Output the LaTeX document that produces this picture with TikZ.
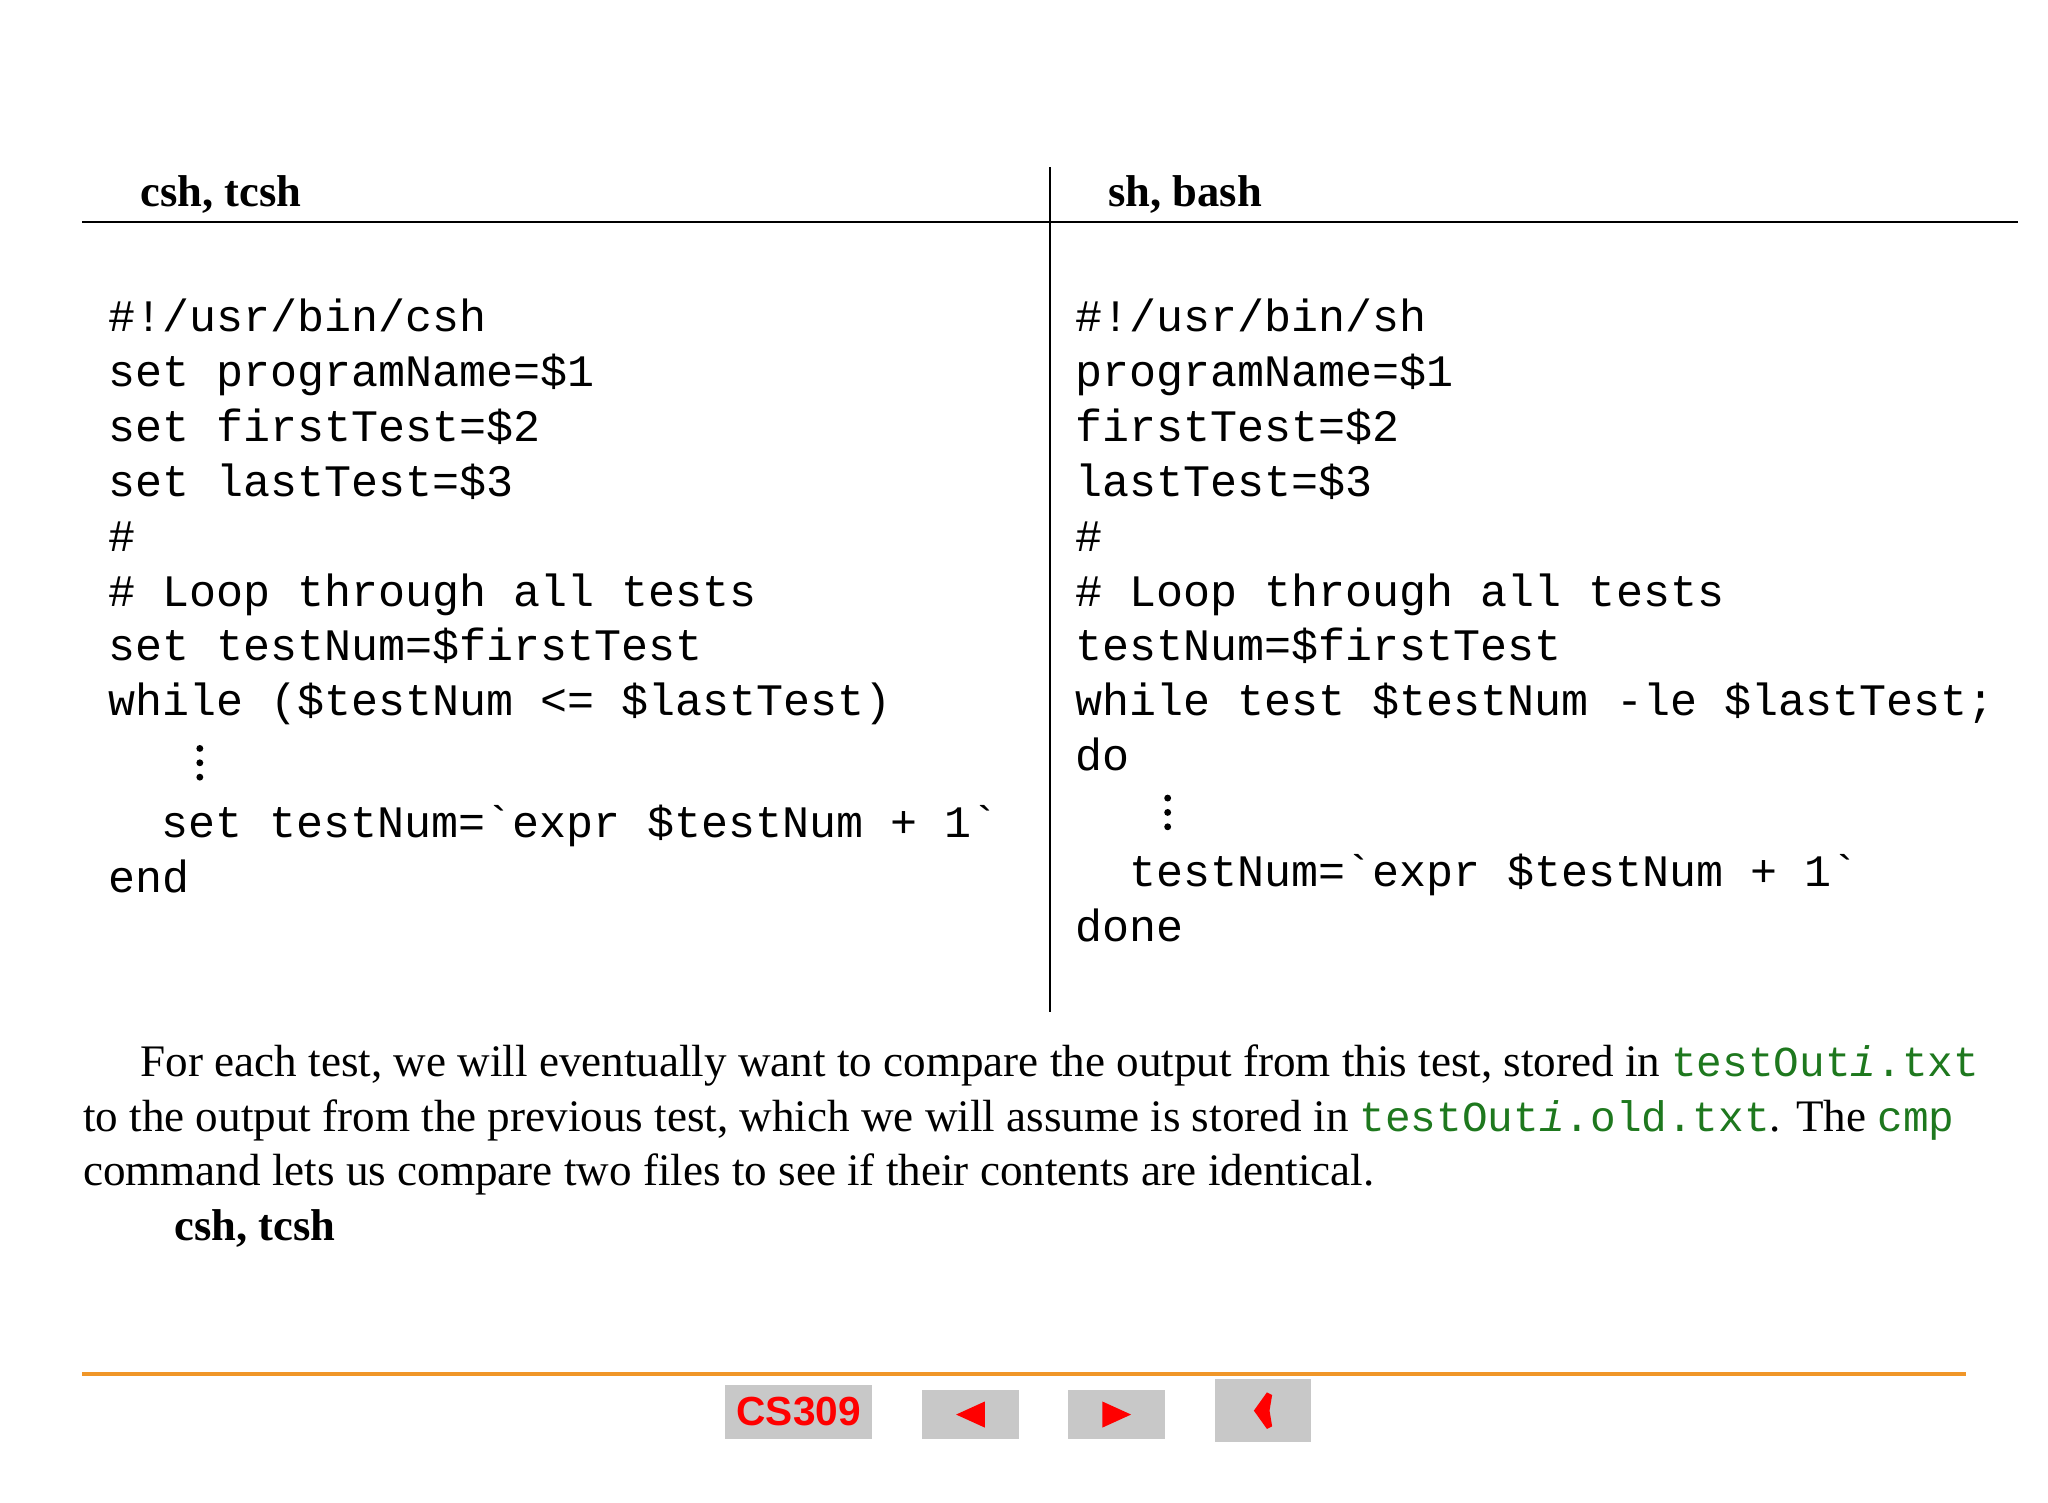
\documentclass[tikz,border=0pt]{standalone}
\usepackage{fontspec}
\setmainfont{Liberation Serif}
\setmonofont{Liberation Mono}
\setsansfont{Liberation Sans}
\definecolor{codegreen}{RGB}{30,120,30}
\definecolor{btngray}{RGB}{200,200,200}
\definecolor{orangeline}{RGB}{240,150,40}
\newcommand{\gcodefont}{\color{codegreen}\fontsize{9.3}{11}\ttfamily}
\begin{document}
\begin{tikzpicture}[x=0.01cm,y=-0.01cm,
  code/.style={anchor=base west,inner sep=0pt,font=\fontsize{9.8}{11}\ttfamily},
  para/.style={anchor=base west,inner sep=0pt,font=\fontsize{9.82}{11}\selectfont},
  head/.style={anchor=base west,inner sep=0pt,font=\fontsize{9.7}{11}\bfseries},
  dot/.style={fill=black,circle,inner sep=0pt,minimum size=1.5pt},
  btn/.style={fill=btngray,draw=none}]
\useasboundingbox (0,0) rectangle (1568,1150);
\draw (63,170) -- (1545,170);
\draw (804,128) -- (804,775);
\node[head] (h1) at (107,158) {csh, tcsh};
\node[head] (h2) at (848,158) {sh, bash};
% left code
\node[code] (l1) at (82,254) {\#!/usr/bin/csh};
\node[code] (l2) at (82,296) {set programName=\$1};
\node[code] (l3) at (82,338) {set firstTest=\$2};
\node[code] (l4) at (82,380) {set lastTest=\$3};
\node[code] (l5) at (82,422) {\#};
\node[code] (l6) at (82,464) {\# Loop through all tests};
\node[code] (l7) at (82,506) {set testNum=\$firstTest};
\node[code] (l8) at (82,548) {while (\$testNum <= \$lastTest)};
\node[dot] (ld1) at (153,573) {};
\node[dot] (ld2) at (153,584) {};
\node[dot] (ld3) at (153,595) {};
\node[code] (l10) at (123,641) {set testNum=`expr \$testNum + 1`};
\node[code] (l11) at (82,683) {end};
% right code
\node[code] (r1) at (823,254) {\#!/usr/bin/sh};
\node[code] (r2) at (823,296) {programName=\$1};
\node[code] (r3) at (823,338) {firstTest=\$2};
\node[code] (r4) at (823,380) {lastTest=\$3};
\node[code] (r5) at (823,422) {\#};
\node[code] (r6) at (823,464) {\# Loop through all tests};
\node[code] (r7) at (823,506) {testNum=\$firstTest};
\node[code] (r8) at (823,548) {while test \$testNum -le \$lastTest;};
\node[code] (r9) at (823,590) {do};
\node[dot] (rd1) at (894,611) {};
\node[dot] (rd2) at (894,622) {};
\node[dot] (rd3) at (894,633) {};
\node[code] (r11) at (864,679) {testNum=`expr \$testNum + 1`};
\node[code] (r12) at (823,721) {done};
% paragraph
\node[para] (p1) at (107,824) {For each test, we will eventually want to compare the output from this test, stored in {\gcodefont testOut\textit{i}.txt}};
\node[para] (p2) at (63,866) {to the output from the previous test, which we will assume is stored in {\gcodefont testOut\textit{i}.old.txt}. The {\gcodefont cmp}};
\node[para] (p3) at (63,908) {command lets us compare two files to see if their contents are identical.};
\node[head] (p4) at (133,950) {csh, tcsh};
% footer
\draw[orangeline,line width=0.8pt] (63,1052) -- (1505,1052);
\fill[btn] (555,1060) rectangle (668,1102);
\node[font=\fontsize{8.85}{11}\sffamily\bfseries,text=red,inner sep=0pt] (cs) at (611.5,1081) {CS309};
\fill[btn] (706,1064) rectangle (780,1102);
\fill[red] (732,1083) -- (754,1073) -- (754,1093) -- cycle;
\fill[btn] (818,1064) rectangle (892,1102);
\fill[red] (866,1083) -- (844,1073) -- (844,1093) -- cycle;
\fill[btn] (930,1056) rectangle (1004,1104);
\fill[red] (960,1080) -- (970,1066) -- (974,1068) -- (972,1080) -- (974,1092) -- (970,1094) -- cycle;
\end{tikzpicture}
\end{document}
